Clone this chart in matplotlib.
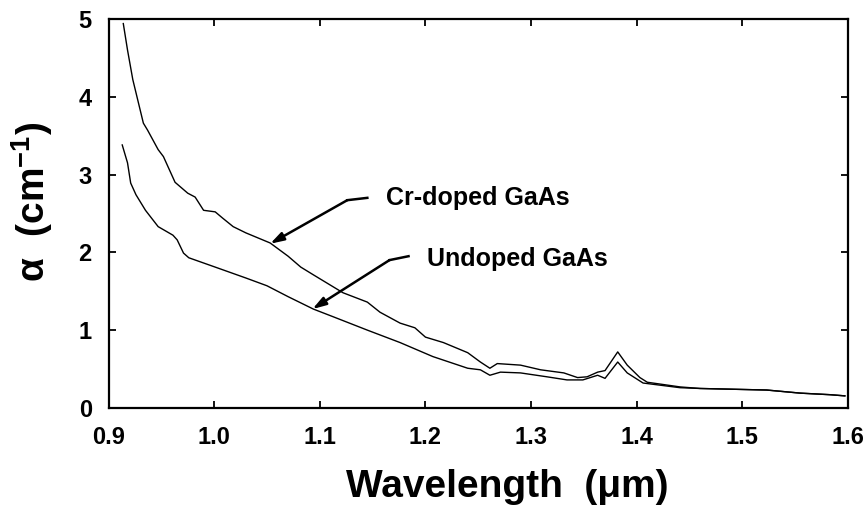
import numpy as np
import matplotlib.pyplot as plt

plt.rcParams['font.family'] = ['Liberation Sans', 'DejaVu Sans']
plt.rcParams['font.weight'] = 'bold'
plt.rcParams['mathtext.fontset'] = 'custom'
plt.rcParams['mathtext.rm'] = 'Liberation Sans:bold'
plt.rcParams['mathtext.bf'] = 'Liberation Sans:bold'
plt.rcParams['mathtext.default'] = 'rm'

#### data ####
# Cr-doped GaAs (upper curve)
wl_cr = [0.914, 0.918, 0.923, 0.933, 0.937, 0.947, 0.952, 0.963, 0.975, 0.982,
         0.990, 1.001, 1.008, 1.018, 1.030, 1.053, 1.070, 1.082, 1.094, 1.122,
         1.145, 1.157, 1.176, 1.190, 1.200, 1.217, 1.240, 1.252, 1.261, 1.268,
         1.290, 1.309, 1.331, 1.344, 1.353, 1.363, 1.370, 1.382, 1.391, 1.403,
         1.410, 1.441, 1.460, 1.523, 1.555, 1.583, 1.597]
alpha_cr = [4.94, 4.60, 4.22, 3.66, 3.57, 3.32, 3.23, 2.90, 2.76, 2.71,
            2.54, 2.52, 2.44, 2.33, 2.25, 2.12, 1.95, 1.81, 1.71, 1.48,
            1.36, 1.23, 1.09, 1.03, 0.91, 0.84, 0.71, 0.59, 0.51, 0.57,
            0.55, 0.49, 0.45, 0.39, 0.40, 0.46, 0.48, 0.72, 0.55, 0.39,
            0.33, 0.27, 0.25, 0.23, 0.19, 0.17, 0.155]

# Undoped GaAs (lower curve)
wl_un = [0.913, 0.918, 0.921, 0.926, 0.935, 0.947, 0.961, 0.965, 0.971, 0.976,
         1.001, 1.030, 1.050, 1.070, 1.082, 1.094, 1.113, 1.145, 1.176, 1.207,
         1.240, 1.252, 1.261, 1.271, 1.290, 1.315, 1.334, 1.349, 1.363, 1.370,
         1.382, 1.391, 1.406, 1.441, 1.460, 1.523, 1.555, 1.583, 1.597]
alpha_un = [3.38, 3.15, 2.89, 2.74, 2.54, 2.33, 2.22, 2.16, 1.99, 1.93,
            1.81, 1.67, 1.57, 1.43, 1.35, 1.27, 1.17, 1.00, 0.84, 0.66,
            0.51, 0.49, 0.42, 0.46, 0.45, 0.40, 0.36, 0.36, 0.42, 0.38,
            0.59, 0.45, 0.32, 0.26, 0.25, 0.23, 0.19, 0.17, 0.155]

x_ticks = [0.9, 1.0, 1.1, 1.2, 1.3, 1.4, 1.5, 1.6]
y_ticks = [0, 1, 2, 3, 4, 5]

fig = plt.figure(figsize=(8.68, 5.25), dpi=100)
ax = fig.add_axes([0.125, 0.223, 0.852, 0.741])

ax.plot(wl_cr, alpha_cr, color='black', lw=1.0)
ax.plot(wl_un, alpha_un, color='black', lw=1.0)

ax.set_xlim(0.9, 1.6)
ax.set_ylim(0, 5)
ax.set_xticks(x_ticks)
ax.set_xticklabels(['%.1f' % v for v in x_ticks])
ax.set_yticks(y_ticks)

for s in ax.spines.values():
    s.set_linewidth(1.6)
ax.tick_params(direction='in', length=5, width=1.3, top=True, right=True,
               labelsize=17, pad=12)
ax.tick_params(axis='x', pad=13)
for lab in ax.get_xticklabels() + ax.get_yticklabels():
    lab.set_fontweight('bold')

ax.set_xlabel('Wavelength  (μm)', fontsize=28, fontweight='bold')
ax.xaxis.set_label_coords(0.539, -0.158)
ax.set_ylabel('α  (cm$^{-1}$)', fontsize=28, fontweight='bold')
ax.yaxis.set_label_coords(-0.073, 0.53)

# labels with bent arrows
ax.text(1.163, 2.70, 'Cr-doped GaAs', fontsize=18, fontweight='bold', va='center')
ax.plot([1.145, 1.126], [2.70, 2.67], color='black', lw=1.8)
ax.annotate('', xy=(1.053, 2.11), xytext=(1.126, 2.67),
            arrowprops=dict(arrowstyle='-|>,head_length=0.8,head_width=0.25',
                            color='black', lw=1.8, shrinkA=0, shrinkB=0))

ax.text(1.201, 1.92, 'Undoped GaAs', fontsize=18, fontweight='bold', va='center')
ax.plot([1.184, 1.166], [1.95, 1.90], color='black', lw=1.8)
ax.annotate('', xy=(1.093, 1.27), xytext=(1.166, 1.90),
            arrowprops=dict(arrowstyle='-|>,head_length=0.8,head_width=0.25',
                            color='black', lw=1.8, shrinkA=0, shrinkB=0))

fig.savefig('out.png', dpi=100)
